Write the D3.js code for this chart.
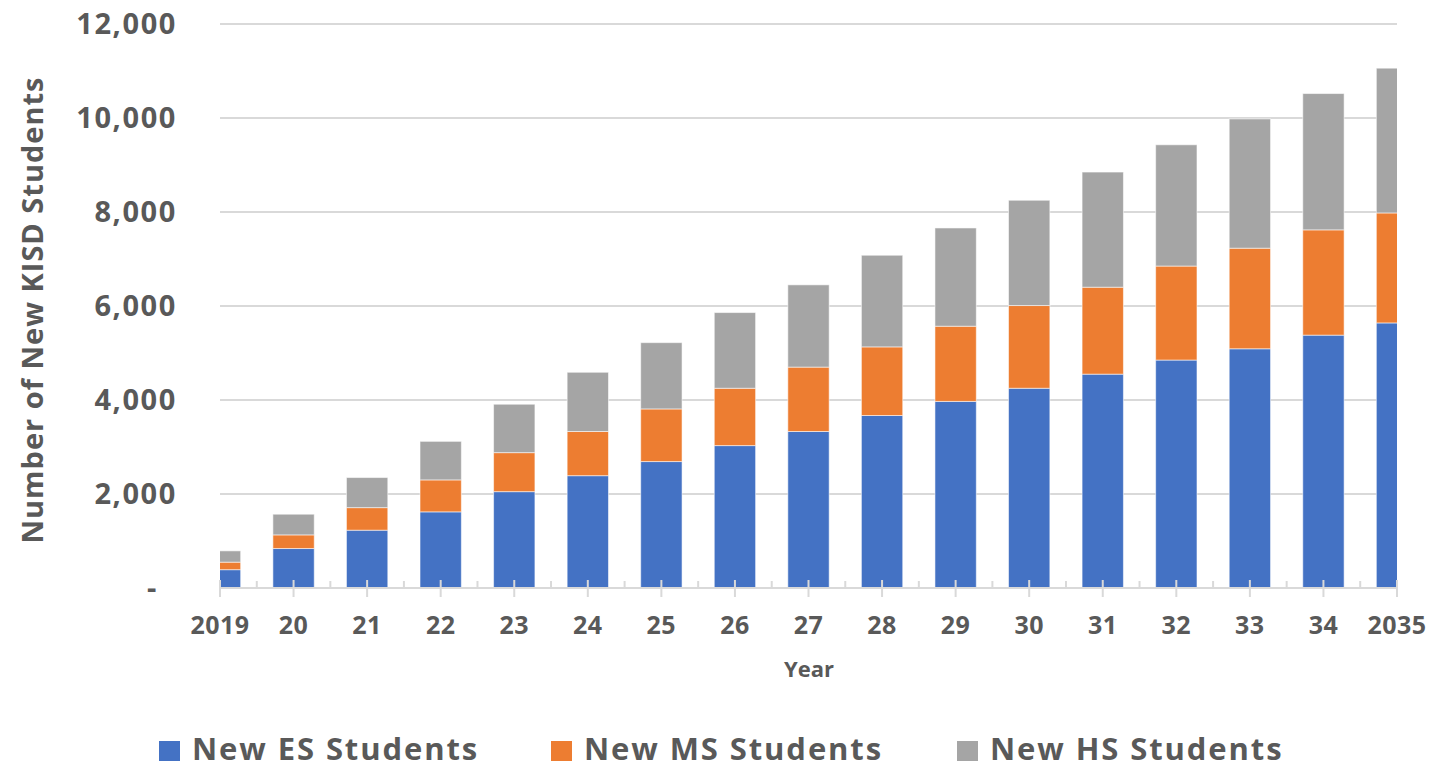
<!DOCTYPE html>
<html>
<head>
<meta charset="utf-8">
<script src="https://cdn.jsdelivr.net/npm/d3@7"></script>
<style>
  html, body { margin: 0; padding: 0; background: #fff; }
  svg { display: block; font-family: "Open Sans", "DejaVu Sans", sans-serif; font-weight: 700; }
</style>
</head>
<body>
<svg id="chart" width="1453" height="769"></svg>
<script>
// Projected new students per school level, 2019–2035
const years = ["2019", "20", "21", "22", "23", "24", "25", "26", "27", "28", "29", "30", "31", "32", "33", "34", "2035"];
const esStudents = [390, 840, 1230, 1620, 2050, 2390, 2690, 3030, 3330, 3670, 3970, 4250, 4550, 4850, 5090, 5380, 5640];
const msStudents = [160, 290, 480, 680, 830, 940, 1120, 1220, 1370, 1460, 1600, 1760, 1850, 2000, 2140, 2240, 2340];
const hsStudents = [240, 440, 640, 820, 1030, 1260, 1410, 1610, 1750, 1950, 2090, 2240, 2450, 2580, 2750, 2900, 3080];
const seriesNames = ["New ES Students", "New MS Students", "New HS Students"];
const seriesColors = ["#4472C4", "#ED7D31", "#A5A5A5"];
const yTicks = [0, 2000, 4000, 6000, 8000, 10000, 12000];

const rows = years.map((y, i) => ({ year: y, es: esStudents[i], ms: msStudents[i], hs: hsStudents[i] }));
const stacked = d3.stack().keys(["es", "ms", "hs"])(rows);

const svg = d3.select("#chart");
const textColor = "#595959";
const gridColor = "#D9D9D9";

const plot = { left: 220, right: 1397, top: 24, bottom: 588 };

const x = d3.scalePoint().domain(years).range([plot.left, plot.right]);
const y = d3.scaleLinear().domain([0, 12000]).range([plot.bottom, plot.top]);
const barW = x.step() * 0.562;

// gridlines
svg.append("g")
  .selectAll("line")
  .data(yTicks.filter(d => d > 0))
  .join("line")
  .attr("x1", plot.left).attr("x2", plot.right)
  .attr("y1", d => y(d)).attr("y2", d => y(d))
  .attr("stroke", gridColor).attr("stroke-width", 2);

// y axis labels
const yAxis = d3.axisLeft(y)
  .tickValues(yTicks)
  .tickSize(0)
  .tickPadding(43)
  .tickFormat(d => d === 0 ? "-" : d3.format(",")(d));
const yg = svg.append("g").attr("transform", `translate(${plot.left},0)`).call(yAxis);
yg.select(".domain").remove();
yg.selectAll("text")
  .attr("fill", textColor)
  .style("font-size", "29px")
  .style("letter-spacing", "1.6px")
  .style("font-family", "'Open Sans', sans-serif")
  .style("font-weight", 700);
yg.selectAll(".tick").filter(d => d === 0).select("text").attr("dx", -19);

// bars, clipped to the plot area so the end bars show half-width
svg.append("clipPath").attr("id", "plotClip")
  .append("rect")
  .attr("x", plot.left).attr("y", 0)
  .attr("width", plot.right - plot.left).attr("height", plot.bottom + 1);

const barsG = svg.append("g").attr("clip-path", "url(#plotClip)");
barsG.selectAll("g.series")
  .data(stacked)
  .join("g")
  .attr("class", "series")
  .attr("fill", (d, i) => seriesColors[i])
  .selectAll("rect")
  .data(d => d)
  .join("rect")
  .attr("x", d => x(d.data.year) - barW / 2)
  .attr("width", barW)
  .attr("y", d => y(d[1]))
  .attr("height", d => y(d[0]) - y(d[1]))
  .attr("stroke", "#ffffff")
  .attr("stroke-opacity", 0.55)
  .attr("stroke-width", 1);

// x axis line and ticks
svg.append("line")
  .attr("x1", plot.left).attr("x2", plot.right)
  .attr("y1", plot.bottom).attr("y2", plot.bottom)
  .attr("stroke", gridColor).attr("stroke-width", 2);

svg.append("g").selectAll("line")
  .data(years)
  .join("line")
  .attr("x1", d => x(d)).attr("x2", d => x(d))
  .attr("y1", plot.bottom - 8).attr("y2", plot.bottom + 9)
  .attr("stroke", gridColor).attr("stroke-width", 2);

svg.append("g").selectAll("line")
  .data(years.slice(1))
  .join("line")
  .attr("x1", d => x(d) - x.step() / 2).attr("x2", d => x(d) - x.step() / 2)
  .attr("y1", plot.bottom - 7).attr("y2", plot.bottom)
  .attr("stroke", gridColor).attr("stroke-width", 2);

// x labels
svg.append("g").selectAll("text")
  .data(years)
  .join("text")
  .attr("x", d => x(d))
  .attr("y", 634)
  .attr("text-anchor", "middle")
  .attr("fill", textColor)
  .style("font-size", "25px")
  .style("letter-spacing", "0.5px")
  .text(d => d);

// axis titles
svg.append("text")
  .attr("x", 809).attr("y", 677)
  .attr("text-anchor", "middle")
  .attr("fill", textColor)
  .style("font-size", "22px")
  .text("Year");

svg.append("text")
  .attr("transform", "translate(43,310) rotate(-90)")
  .attr("text-anchor", "middle")
  .attr("fill", textColor)
  .style("font-size", "29px")
  .style("letter-spacing", "1px")
  .text("Number of New KISD Students");

// legend
const legendX = [159, 551, 957];
const legend = svg.append("g").selectAll("g")
  .data(seriesNames)
  .join("g")
  .attr("transform", (d, i) => `translate(${legendX[i]},0)`);
legend.append("rect")
  .attr("x", 0).attr("y", 741)
  .attr("width", 21).attr("height", 20)
  .attr("fill", (d, i) => seriesColors[i]);
legend.append("text")
  .attr("x", 33).attr("y", 760)
  .attr("fill", textColor)
  .style("font-size", "31px")
  .style("letter-spacing", "1.9px")
  .text(d => d);
</script>
</body>
</html>
